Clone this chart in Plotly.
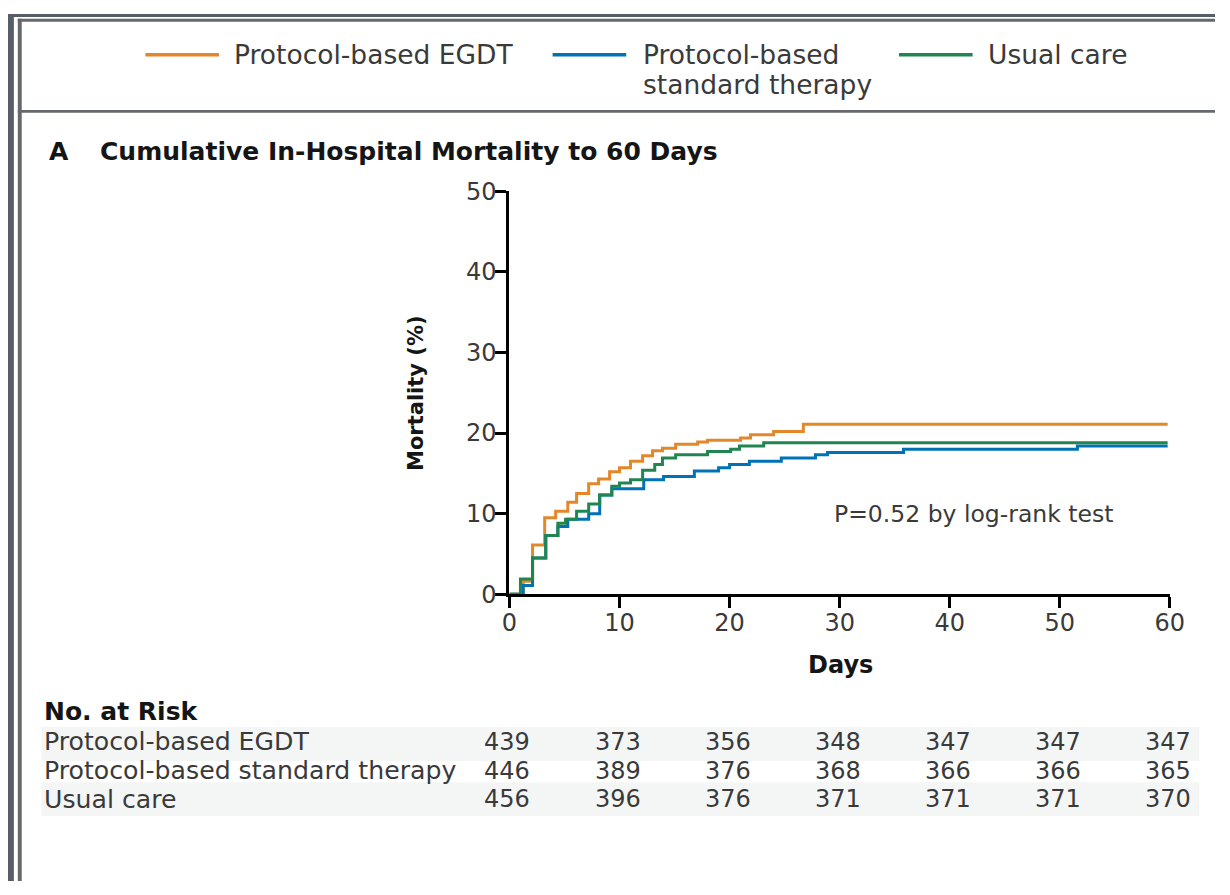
import plotly.graph_objects as go

W, H = 1230, 895

# ---------------- data ----------------
egdt_days = [0, 1.25, 2.1, 3.2, 4.2, 5.3, 6.1, 7.2, 8.1, 9.1, 10.0, 11.0, 12.1, 13.0, 13.9, 15.1, 17.1, 18.0, 21.0, 21.9, 24.0, 26.7, 59.8]
egdt_mort = [0, 1.6, 6.1, 9.5, 10.3, 11.4, 12.5, 13.7, 14.3, 15.2, 15.7, 16.5, 17.2, 17.8, 18.1, 18.6, 18.9, 19.1, 19.4, 19.8, 20.2, 21.1, 21.1]

std_days = [0, 1.25, 2.1, 3.3, 4.4, 5.3, 7.2, 8.2, 9.3, 12.2, 14.0, 16.8, 19.0, 20.0, 21.8, 24.7, 27.8, 28.9, 35.8, 51.6, 59.8]
std_mort = [0, 1.1, 4.5, 7.3, 8.4, 9.3, 10.0, 12.3, 13.1, 14.2, 14.6, 15.3, 15.7, 16.1, 16.5, 16.9, 17.3, 17.6, 18.0, 18.4, 18.4]

usual_days = [0, 1.0, 2.1, 3.3, 4.4, 5.1, 6.1, 7.2, 8.2, 9.3, 10.0, 11.0, 12.1, 13.2, 13.9, 15.1, 18.0, 20.1, 20.9, 23.1, 59.8]
usual_mort = [0, 1.9, 4.5, 7.3, 8.8, 9.3, 10.3, 11.2, 12.3, 13.4, 13.8, 14.2, 15.4, 16.1, 16.9, 17.3, 17.7, 18.0, 18.4, 18.8, 18.8]

series_names = ["Protocol-based EGDT", "Protocol-based standard therapy", "Usual care"]
legend_labels = ["Protocol-based EGDT", "Protocol-based<br>standard therapy", "Usual care"]

x_ticks = [0, 10, 20, 30, 40, 50, 60]
y_ticks = [0, 10, 20, 30, 40, 50]

risk_times = [0, 10, 20, 30, 40, 50, 60]
risk_egdt = [439, 373, 356, 348, 347, 347, 347]
risk_std = [446, 389, 376, 368, 366, 366, 365]
risk_usual = [456, 396, 376, 371, 371, 371, 370]

title_text = "Cumulative In-Hospital Mortality to 60 Days"
panel_letter = "A"
p_text = "P=0.52 by log-rank test"

# ---------------- style ----------------
C_ORANGE = "#E4862A"
C_BLUE = "#0072B6"
C_GREEN = "#218550"
FONT = "DejaVu Sans"
TXT = "#3a3a3a"
BOLD = "#151515"


def PX(x):
    return x / W


def PY(y):
    return 1 - y / H


fig = go.Figure()
for days, mort, col, name in [
    (egdt_days, egdt_mort, C_ORANGE, series_names[0]),
    (std_days, std_mort, C_BLUE, series_names[1]),
    (usual_days, usual_mort, C_GREEN, series_names[2]),
]:
    fig.add_trace(go.Scatter(x=days, y=mort, mode="lines", line=dict(color=col, width=3, shape="hv"),
                             name=name, showlegend=False, hoverinfo="skip"))

shapes = []
# outer dark strips
shapes.append(dict(type="rect", xref="paper", yref="paper", x0=0, x1=PX(6), y0=0, y1=1,
                   fillcolor="#585e69", line=dict(width=0), layer="above"))
shapes.append(dict(type="rect", xref="paper", yref="paper", x0=0, x1=1, y0=PY(3), y1=1,
                   fillcolor="#585e69", line=dict(width=0), layer="above"))
# gray frame lines
shapes.append(dict(type="rect", xref="paper", yref="paper", x0=PX(10), x1=PX(14), y0=0, y1=PY(5),
                   fillcolor="#65686c", line=dict(width=0)))
shapes.append(dict(type="rect", xref="paper", yref="paper", x0=PX(10), x1=1, y0=PY(8), y1=PY(5),
                   fillcolor="#65686c", line=dict(width=0)))
shapes.append(dict(type="rect", xref="paper", yref="paper", x0=PX(10), x1=1, y0=PY(102), y1=PY(99),
                   fillcolor="#65686c", line=dict(width=0)))
# table row shading
for y0, y1 in [(736, 771), (793, 828)]:
    shapes.append(dict(type="rect", xref="paper", yref="paper", x0=PX(34), x1=PX(1214), y0=PY(y1), y1=PY(y0),
                       fillcolor="#f4f6f5", line=dict(width=0), layer="below"))
# legend samples
for x0, col in [(140, C_ORANGE), (555, C_BLUE), (908, C_GREEN)]:
    shapes.append(dict(type="line", xref="paper", yref="paper", x0=PX(x0), x1=PX(x0 + 75), y0=PY(42), y1=PY(42),
                       line=dict(color=col, width=3.5)))

ann = []
# legend text
for xt, lbl in zip([228, 645, 997], legend_labels):
    lines = lbl.split("<br>")
    for i, ln in enumerate(lines):
        ann.append(dict(xref="paper", yref="paper", x=PX(xt), y=PY(42 + 31 * i), text=ln, showarrow=False,
                        xanchor="left", yanchor="middle", font=dict(family=FONT, size=26.5, color=TXT)))
# panel title
ann.append(dict(xref="paper", yref="paper", x=PX(40), y=PY(142), text="<b>" + panel_letter + "</b>", showarrow=False,
                xanchor="left", yanchor="middle", font=dict(family=FONT, size=25, color=BOLD)))
ann.append(dict(xref="paper", yref="paper", x=PX(92), y=PY(142), text="<b>" + title_text + "</b>", showarrow=False,
                xanchor="left", yanchor="middle", font=dict(family=FONT, size=25, color=BOLD)))
# axis titles
ann.append(dict(xref="paper", yref="paper", x=PX(416), y=PY(391), text="<b>Mortality (%)</b>", showarrow=False,
                textangle=-90, xanchor="center", yanchor="middle", font=dict(family=FONT, size=21, color=BOLD)))
ann.append(dict(xref="paper", yref="paper", x=PX(848), y=PY(672), text="<b>Days</b>", showarrow=False,
                xanchor="center", yanchor="middle", font=dict(family=FONT, size=24, color=BOLD)))
# p value
ann.append(dict(xref="x", yref="y", x=29.3, y=10, text=p_text, showarrow=False,
                xanchor="left", yanchor="middle", font=dict(family=FONT, size=23.5, color=TXT)))
# risk table
ann.append(dict(xref="paper", yref="paper", x=PX(35), y=PY(720), text="<b>No. at Risk</b>", showarrow=False,
                xanchor="left", yanchor="middle", font=dict(family=FONT, size=25, color=BOLD)))
for yc, name, vals in [(751.5, series_names[0], risk_egdt), (781, series_names[1], risk_std),
                       (810.5, series_names[2], risk_usual)]:
    ann.append(dict(xref="paper", yref="paper", x=PX(35), y=PY(yc), text=name, showarrow=False,
                    xanchor="left", yanchor="middle", font=dict(family=FONT, size=25.2, color=TXT)))
    for t, v in zip(risk_times, vals):
        ann.append(dict(xref="x", yref="paper", x=t, y=PY(yc), text=str(v), showarrow=False, xshift=-2,
                        xanchor="center", yanchor="middle", font=dict(family=FONT, size=24, color=TXT)))

axis_common = dict(showline=True, linecolor="black", linewidth=3, ticks="outside", ticklen=11, tickwidth=3,
                   tickcolor="black", showgrid=False, zeroline=False, ticklabelstandoff=-6,
                   tickfont=dict(family=FONT, size=24, color=TXT))

fig.update_layout(
    width=W, height=H, margin=dict(l=0, r=0, t=0, b=0),
    paper_bgcolor="white", plot_bgcolor="white",
    xaxis=dict(domain=[PX(511), PX(1184)], range=[0, 60], tickvals=x_ticks, **axis_common),
    yaxis=dict(domain=[PY(599), PY(183)], range=[0, 50], tickvals=y_ticks, **axis_common),
    shapes=shapes, annotations=ann, showlegend=False,
)

fig.write_html("out.html", post_script="document.body.style.margin='0';document.body.style.overflow='hidden';")
